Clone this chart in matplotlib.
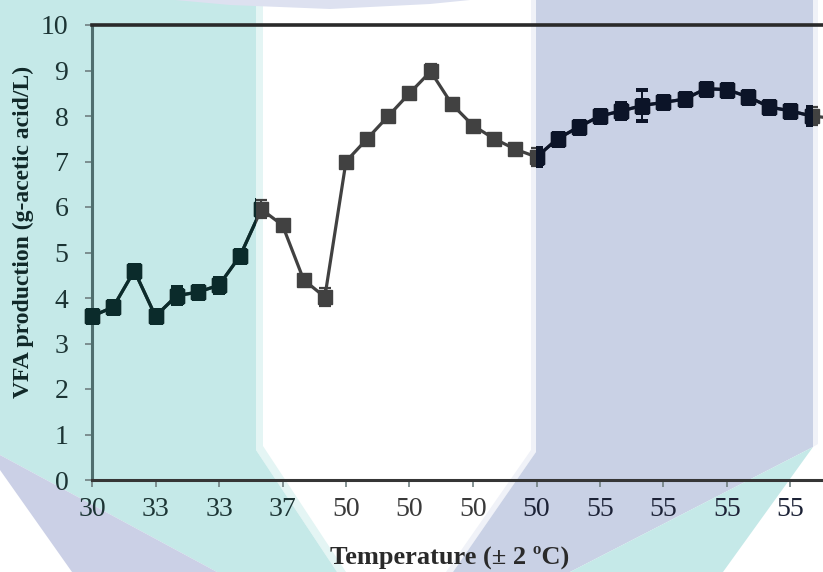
import matplotlib.pyplot as plt
import numpy as np
from matplotlib.patches import Polygon

plt.rcParams['font.family'] = ['Liberation Serif', 'DejaVu Serif']

W, H = 823, 572

# VFA production per sampling point (g-acetic acid/L)
vfa = [3.60, 3.80, 4.60, 3.60, 4.05, 4.13, 4.28, 4.93, 5.95, 5.60, 4.40, 4.02,
       7.00, 7.50, 8.00, 8.50, 8.98, 8.26, 7.79, 7.50, 7.27, 7.10,
       7.50, 7.76, 8.00, 8.11, 8.23, 8.30, 8.37, 8.60, 8.58, 8.42,
       8.20, 8.11, 8.00, 7.95]
err = [0.05, 0.14, 0.05, 0.12, 0.19, 0.06, 0.16, 0.08, 0.20, 0.05, 0.06, 0.20,
       0.05, 0.05, 0.05, 0.10, 0.17, 0.06, 0.06, 0.08, 0.08, 0.20,
       0.05, 0.05, 0.05, 0.18, 0.35, 0.06, 0.06, 0.05, 0.05, 0.05,
       0.05, 0.05, 0.19, 0.05]
tick_labels = ['30', '33', '33', '37', '50', '50', '50', '50',
               '55', '55', '55', '55']

TEAL = '#c5e9e8'
LAV = '#c9d1e5'


def px(pts):
    return [(x / W, 1 - y / H) for x, y in pts]


# watermark shapes behind the chart (pixel coords, y down)
teal_zone = [(0, 0), (256, 0), (256, 450), (337, 572), (217, 572), (0, 455)]
blue_zone = [(536, 0), (813, 0), (813, 447), (570, 572), (453, 572), (536, 452)]
backdrop = [
    ([(256, 0), (263, 0), (263, 446), (346, 572), (337, 572), (256, 450)], '#e4f5f4'),
    ([(531, 0), (536, 0), (536, 452), (453, 572), (446, 572), (531, 450)], '#f0f2f8'),
    ([(813, 0), (818, 0), (818, 444), (813, 447)], '#f0f2f8'),
    (teal_zone, TEAL),
    (blue_zone, LAV),
    ([(0, 455), (217, 572), (72, 572), (0, 470)], '#cbd0e6'),
    ([(813, 447), (570, 572), (723, 572)], TEAL),
    ([(175, 0), (470, 0), (430, 4), (330, 9), (230, 5)], '#dde1f0'),
]

fig = plt.figure(figsize=(W / 100, H / 100), dpi=100)
for pts, col in backdrop:
    fig.patches.append(Polygon(px(pts), closed=True, transform=fig.transFigure,
                               facecolor=col, edgecolor='none', zorder=-5))

step = 63.5 / 3
n_span = 36
ax = fig.add_axes([92 / W, 1 - 480 / H, n_span * step / W, 455 / H])
ax.set_facecolor('none')

x = np.arange(len(vfa))


def draw_series(color, zone=None):
    line, caps, bars = ax.errorbar(x, vfa, yerr=err, color=color, marker='s',
                                   ms=9.5, mec=color, mfc=color, lw=2.3,
                                   capsize=4.5, elinewidth=1.4, capthick=1.6,
                                   clip_on=False, zorder=3)
    if zone is None:
        return
    clip = Polygon(px(zone), closed=True, transform=fig.transFigure)
    for a in [line, *caps, *bars]:
        a.set_clip_on(True)
        a.set_clip_box(None)
        a.set_clip_path(clip)


draw_series('#414141')
draw_series('#0b2b2b', teal_zone)
draw_series('#0c1428', blue_zone)

ax.set_xlim(0, n_span)
ax.set_ylim(0, 10)
ax.set_yticks(range(0, 11))
ax.set_xticks(range(0, 3 * len(tick_labels), 3))
ax.set_xticklabels(tick_labels)

ax.spines['right'].set_visible(False)
ax.spines['left'].set_color('#4f6e6e')
ax.spines['left'].set_linewidth(2.2)
ax.spines['bottom'].set_color('#363636')
ax.spines['bottom'].set_linewidth(2.2)
ax.spines['top'].set_color('#2a2a2a')
ax.spines['top'].set_linewidth(2.6)

ax.tick_params(direction='out', length=5, width=1.2, color='#6f7f80',
               labelsize=20)
ax.tick_params(axis='y', pad=12)
ax.tick_params(axis='x', pad=7)
for lbl in ax.get_yticklabels():
    lbl.set_color('#1c3434')
for lbl, pos in zip(ax.get_xticklabels(), ax.get_xticks()):
    xp = 92 + pos * step
    if xp < 300:
        lbl.set_color('#1c3434')
    elif xp > 520:
        lbl.set_color('#1c2236')
    else:
        lbl.set_color('#3a3a3a')

fig.text(23 / W, 1 - 232 / H, 'VFA production (g-acetic acid/L)', rotation=90,
         ha='center', va='center', fontsize=17, fontweight='bold', color='#102828')
fig.text(450 / W, 1 - 557 / H, 'Temperature (± 2 ºC)', ha='center', va='center',
         fontsize=19, fontweight='bold', color='#2a2a2a')

fig.savefig('out.png', dpi=100)
